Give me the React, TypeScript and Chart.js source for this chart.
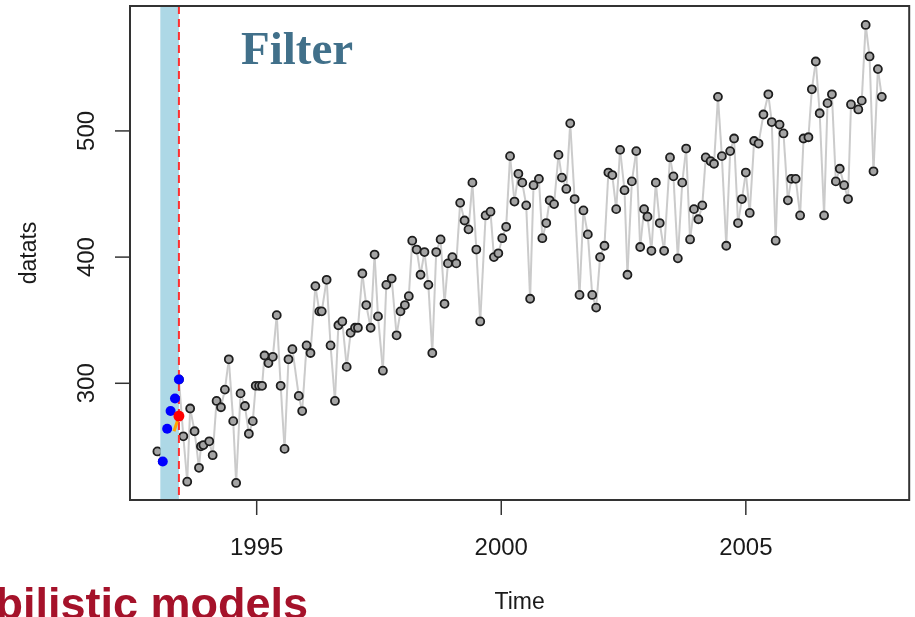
import React, { useEffect, useRef } from "react";
import { Chart, registerables } from "chart.js";

Chart.register(...registerables);

// ---- data ----
const years = [
  1992.97, 1993.08, 1993.17, 1993.24, 1993.33, 1993.41, 1993.5, 1993.58, 1993.64, 1993.73,
  1993.82, 1993.86, 1993.91, 1994.03, 1994.1, 1994.18, 1994.27, 1994.35, 1994.43, 1994.52,
  1994.58, 1994.67, 1994.76, 1994.84, 1994.92, 1994.98, 1995.05, 1995.11, 1995.16, 1995.24,
  1995.33, 1995.41, 1995.49, 1995.57, 1995.65, 1995.73, 1995.86, 1995.93, 1996.02, 1996.1,
  1996.2, 1996.28, 1996.33, 1996.43, 1996.51, 1996.6, 1996.67, 1996.75, 1996.84, 1996.92,
  1997.01, 1997.07, 1997.16, 1997.24, 1997.33, 1997.41, 1997.48, 1997.58, 1997.65, 1997.76,
  1997.86, 1997.94, 1998.03, 1998.11, 1998.18, 1998.27, 1998.35, 1998.43, 1998.51, 1998.59,
  1998.67, 1998.76, 1998.84, 1998.91, 1999.0, 1999.08, 1999.16, 1999.25, 1999.33, 1999.41,
  1999.49, 1999.57, 1999.68, 1999.78, 1999.85, 1999.94, 2000.02, 2000.1, 2000.18, 2000.27,
  2000.35, 2000.43, 2000.51, 2000.59, 2000.66, 2000.77, 2000.84, 2000.92, 2000.99, 2001.08,
  2001.17, 2001.24, 2001.33, 2001.41, 2001.5, 2001.6, 2001.68, 2001.77, 2001.86, 2001.94,
  2002.02, 2002.11, 2002.19, 2002.27, 2002.35, 2002.43, 2002.52, 2002.58, 2002.67, 2002.76,
  2002.84, 2002.92, 2002.99, 2003.07, 2003.16, 2003.24, 2003.33, 2003.45, 2003.52, 2003.61,
  2003.7, 2003.78, 2003.86, 2003.94, 2004.03, 2004.11, 2004.18, 2004.28, 2004.35, 2004.43,
  2004.51, 2004.6, 2004.68, 2004.76, 2004.84, 2004.92, 2005.0, 2005.08, 2005.17, 2005.26,
  2005.36, 2005.46, 2005.53, 2005.61, 2005.69, 2005.77, 2005.86, 2005.93, 2006.02, 2006.11,
  2006.18, 2006.28, 2006.35, 2006.43, 2006.51, 2006.6, 2006.67, 2006.76, 2006.84, 2006.92,
  2007.01, 2007.09, 2007.15, 2007.3, 2007.37, 2007.45, 2007.53, 2007.61, 2007.7, 2007.78,
];

const datats = [
  246, 238, 264, 278, 288, 303, 258, 222, 280, 262,
  233, 250, 251, 254, 243, 286, 281, 295, 319, 270,
  221, 292, 282, 260, 270, 298, 298, 298, 322, 316,
  321, 354, 298, 248, 319, 327, 290, 278, 330, 324,
  377, 357, 357, 382, 330, 286, 346, 349, 313, 340,
  344, 344, 387, 362, 344, 402, 353, 310, 378, 383,
  338, 357, 362, 369, 413, 406, 386, 404, 378, 324,
  404, 414, 363, 395, 400, 395, 443, 429, 422, 459,
  406, 349, 433, 436, 400, 403, 415, 424, 480, 444,
  466, 459, 441, 367, 457, 462, 415, 427, 445, 442,
  481, 463, 454, 506, 446, 370, 437, 418, 370, 360,
  400, 409, 467, 465, 438, 485, 453, 386, 460, 484,
  408, 438, 432, 405, 459, 427, 405, 479, 464, 399,
  459, 486, 414, 438, 430, 441, 479, 476, 474, 527,
  480, 409, 484, 494, 427, 446, 467, 435, 492, 490,
  513, 529, 507, 413, 505, 498, 445, 462, 462, 433,
  494, 495, 533, 555, 514, 433, 522, 529, 460, 470,
  457, 446, 521, 517, 524, 584, 559, 468, 549, 527,
];

// filter window (shaded band) and current time (dashed line)
const filterStart = 1993.03;
const filterEnd = 1993.41;

// filtered estimate path (orange) ending at the current estimate (red)
const filteredTimes = [1993.31, 1993.41];
const filteredValues = [262, 274];

const xTicks = [1995, 2000, 2005];
const yTicks = [300, 400, 500];
const xRange = [1992.41, 2008.34];
const yRange = [207.5, 599];

const titleText = "Filter";
const footerText = "Probabilistic models";
const xTitle = "Time";
const yTitle = "datats";

export default function App() {
  const ref = useRef<HTMLCanvasElement>(null);

  useEffect(() => {
    const canvas = ref.current;
    if (!canvas) return;

    const pts = years.map((t, i) => ({ x: t, y: datats[i] }));
    const obs = pts.filter((p) => p.x > filterStart && p.x <= filterEnd + 1e-6);
    const filt = filteredTimes.map((t, i) => ({ x: t, y: filteredValues[i] }));
    const current = [filt[filt.length - 1]];

    const overlay = {
      id: "overlay",
      beforeDatasetsDraw(chart: any) {
        // R type="b" style connecting line: segments with gaps around the points
        const { ctx } = chart;
        const xs = chart.scales.x;
        const ys = chart.scales.y;
        const gap = 5;
        ctx.save();
        ctx.strokeStyle = "#cbcbcb";
        ctx.lineWidth = 2;
        ctx.lineCap = "butt";
        for (let i = 1; i < pts.length; i++) {
          const ax = xs.getPixelForValue(pts[i - 1].x);
          const ay = ys.getPixelForValue(pts[i - 1].y);
          const bx = xs.getPixelForValue(pts[i].x);
          const by = ys.getPixelForValue(pts[i].y);
          const dx = bx - ax;
          const dy = by - ay;
          const len = Math.hypot(dx, dy);
          if (len <= 2 * gap) continue;
          const ux = dx / len;
          const uy = dy / len;
          ctx.beginPath();
          ctx.moveTo(ax + ux * gap, ay + uy * gap);
          ctx.lineTo(bx - ux * gap, by - uy * gap);
          ctx.stroke();
        }
        ctx.restore();
      },
      afterDatasetDraw(chart: any, args: any) {
        if (args.index !== 0) return;
        const { ctx, chartArea } = chart;
        const xs = chart.scales.x;
        const x0 = xs.getPixelForValue(filterStart);
        const x1 = xs.getPixelForValue(filterEnd);
        ctx.save();
        ctx.fillStyle = "#add8e6";
        ctx.fillRect(x0, chartArea.top, x1 - x0, chartArea.bottom - chartArea.top);
        ctx.strokeStyle = "#ff3030";
        ctx.lineWidth = 2;
        ctx.setLineDash([8, 5]);
        ctx.beginPath();
        ctx.moveTo(x1, chartArea.top);
        ctx.lineTo(x1, chartArea.bottom);
        ctx.stroke();
        ctx.restore();
      },
      afterDraw(chart: any) {
        const { ctx, chartArea } = chart;
        const xs = chart.scales.x;
        const ys = chart.scales.y;
        const tickLen = 15;
        ctx.save();
        // box
        ctx.strokeStyle = "#333";
        ctx.lineWidth = 2;
        ctx.strokeRect(chartArea.left, chartArea.top, chartArea.right - chartArea.left, chartArea.bottom - chartArea.top);
        // x ticks
        ctx.fillStyle = "#1a1a1a";
        ctx.font = '24px "Liberation Sans", Arial, sans-serif';
        ctx.textAlign = "center";
        ctx.textBaseline = "middle";
        ctx.lineWidth = 1.5;
        for (const v of xTicks) {
          const px = xs.getPixelForValue(v);
          ctx.beginPath();
          ctx.moveTo(px, chartArea.bottom);
          ctx.lineTo(px, chartArea.bottom + tickLen);
          ctx.stroke();
          ctx.fillText(String(v), px, chartArea.bottom + 48);
        }
        // y ticks
        for (const v of yTicks) {
          const py = ys.getPixelForValue(v);
          ctx.beginPath();
          ctx.moveTo(chartArea.left, py);
          ctx.lineTo(chartArea.left - tickLen, py);
          ctx.stroke();
          ctx.save();
          ctx.translate(chartArea.left - 43, py);
          ctx.rotate(-Math.PI / 2);
          ctx.fillText(String(v), 0, 0);
          ctx.restore();
        }
        // axis titles
        ctx.font = '23px "Liberation Sans", Arial, sans-serif';
        ctx.fillText(xTitle, (chartArea.left + chartArea.right) / 2, chartArea.bottom + 103);
        ctx.save();
        ctx.translate(30, (chartArea.top + chartArea.bottom) / 2);
        ctx.rotate(-Math.PI / 2);
        ctx.fillText(yTitle, 0, 0);
        ctx.restore();
        // title inside plot
        ctx.font = 'bold 47px "Liberation Serif", "Times New Roman", serif';
        ctx.fillStyle = "#41708a";
        ctx.textAlign = "left";
        ctx.textBaseline = "alphabetic";
        ctx.fillText(titleText, 241, 64);
        // footer (slide heading, partly cut)
        ctx.font = 'bold 45px "Liberation Sans", Arial, sans-serif';
        ctx.fillStyle = "#a5122a";
        ctx.textAlign = "right";
        ctx.fillText(footerText, 308, 619);
        ctx.restore();
      },
    };

    const chart = new Chart(canvas, {
      type: "scatter",
      data: {
        datasets: [
          {
            data: pts,
            showLine: false,
            pointRadius: 4,
            pointBackgroundColor: "#a4a4a4",
            pointBorderColor: "#1e1e1e",
            pointBorderWidth: 1.8,
            order: 4,
          },
          {
            data: obs,
            showLine: false,
            pointRadius: 5,
            pointBackgroundColor: "#0000ff",
            pointBorderWidth: 0,
            order: 3,
          },
          {
            data: filt,
            showLine: true,
            borderColor: "#ffa500",
            borderWidth: 3,
            pointRadius: 0,
            order: 2,
          } as any,
          {
            data: current,
            showLine: false,
            pointRadius: 5.5,
            pointBackgroundColor: "#ff0000",
            pointBorderWidth: 0,
            order: 1,
          },
        ],
      },
      options: {
        responsive: false,
        animation: false,
        events: [],
        layout: { padding: { left: 130, right: 5, top: 6, bottom: 117 } },
        plugins: { legend: { display: false }, tooltip: { enabled: false } },
        scales: {
          x: { type: "linear", display: false, min: xRange[0], max: xRange[1] },
          y: { type: "linear", display: false, min: yRange[0], max: yRange[1] },
        },
      },
      plugins: [overlay],
    });

    return () => chart.destroy();
  }, []);

  return (
    <div style={{ position: "fixed", left: 0, top: 0, width: 915, height: 617, background: "#fff", overflow: "hidden" }}>
      <canvas ref={ref} width={915} height={617} style={{ display: "block" }} />
    </div>
  );
}
